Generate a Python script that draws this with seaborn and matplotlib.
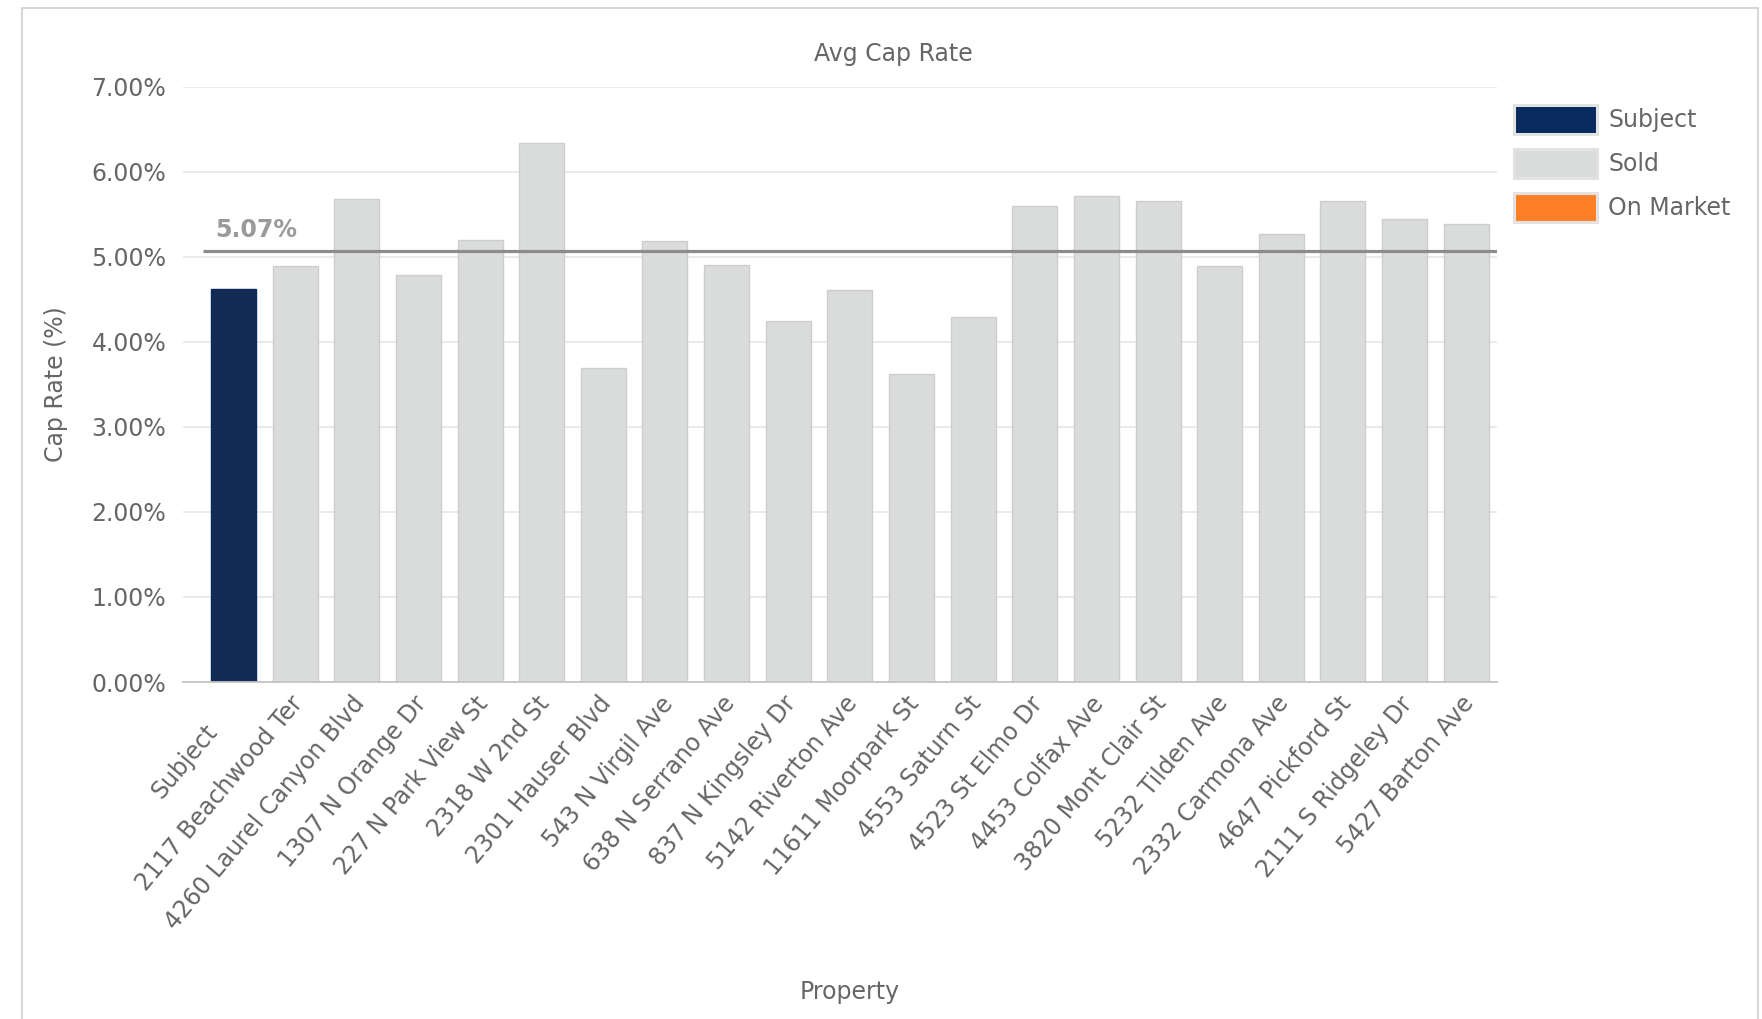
import matplotlib
matplotlib.use("Agg")
import matplotlib.pyplot as plt
import matplotlib.patches as mpatches
import matplotlib.transforms as mtransforms
import seaborn as sns
import pandas as pd

# Properties and their cap rates (%)
properties = [
    "Subject", "2117 Beachwood Ter", "4260 Laurel Canyon Blvd", "1307 N Orange Dr",
    "227 N Park View St", "2318 W 2nd St", "2301 Hauser Blvd", "543 N Virgil Ave",
    "638 N Serrano Ave", "837 N Kingsley Dr", "5142 Riverton Ave", "11611 Moorpark St",
    "4553 Saturn St", "4523 St Elmo Dr", "4453 Colfax Ave", "3820 Mont Clair St",
    "5232 Tilden Ave", "2332 Carmona Ave", "4647 Pickford St", "2111 S Ridgeley Dr",
    "5427 Barton Ave",
]
cap_rates = [
    4.62, 4.89, 5.68, 4.78, 5.20, 6.33, 3.69, 5.18, 4.90, 4.24, 4.61,
    3.62, 4.29, 5.59, 5.71, 5.65, 4.89, 5.27, 5.65, 5.44, 5.38,
]
statuses = ["Subject"] + ["Sold"] * (len(properties) - 1)
status_order = ["Subject", "Sold", "On Market"]
avg_cap_rate = 5.07
y_ticks = [0, 1, 2, 3, 4, 5, 6, 7]

palette = {"Subject": "#092a5e", "Sold": "#dadbdb", "On Market": "#ff7f27"}
text_color = "#666666"

df = pd.DataFrame({"Property": properties, "Cap Rate": cap_rates, "Status": statuses})

sns.set_theme(style="white")
plt.rcParams["font.family"] = ["DejaVu Sans"]

W, H = 1762, 1019
fig = plt.figure(figsize=(W / 100, H / 100), dpi=100)
ax = fig.add_axes([183 / W, 1 - 682 / H, (1497 - 183) / W, (682 - 86.5) / H])

sns.barplot(
    data=df, x="Property", y="Cap Rate", hue="Status", hue_order=status_order,
    palette=palette, dodge=False, width=0.73, legend=False, ax=ax,
    edgecolor="#cdcdcd", linewidth=1.0, zorder=2,
)
for p in ax.patches:
    fc = p.get_facecolor()
    if fc[2] < 0.5:
        p.set_edgecolor(palette["Subject"])

# Average line and its label
ax.plot([-0.5, len(properties) - 0.5], [avg_cap_rate, avg_cap_rate],
        color="#8c8c8c", lw=2.3, zorder=3, solid_capstyle="butt")
ax.annotate(f"{avg_cap_rate:.2f}%", xy=(-0.3, avg_cap_rate), xytext=(0, 15),
            textcoords="offset points", ha="left", va="center",
            fontsize=17, fontweight="bold", color="#9a9a9a")

ax.set_xlim(-0.82, len(properties) - 0.5)
ax.set_ylim(0, 7)
ax.set_yticks(y_ticks)
ax.set_yticklabels([f"{v:.2f}%" for v in y_ticks])
ax.yaxis.grid(True, color="#e4e4e4", lw=1.1, zorder=0)
ax.xaxis.grid(False)
ax.set_axisbelow(True)

for s in ["left", "right", "top"]:
    ax.spines[s].set_visible(False)
ax.spines["bottom"].set_color("#c4c4c4")
ax.spines["bottom"].set_linewidth(1.3)

ax.tick_params(axis="y", length=0, pad=12, labelsize=17, labelcolor=text_color)
ax.tick_params(axis="x", length=0, pad=7, labelsize=17, labelcolor=text_color)
plt.setp(ax.get_xticklabels(), rotation=50, ha="right", va="top",
         rotation_mode="anchor")
shift = mtransforms.ScaledTranslation(-4 / 72, 0, fig.dpi_scale_trans)
for i, lab in enumerate(ax.get_xticklabels()):
    t = lab.get_transform() + shift
    if i == 0:
        # the first label sits a little further out along its baseline
        t = t + mtransforms.ScaledTranslation(-17 / 72, -20 / 72, fig.dpi_scale_trans)
    lab.set_transform(t)

ax.set_xlabel("Property", fontsize=17, color=text_color)
ax.xaxis.set_label_coords((850 - 183) / 1314, -(992 - 682) / 595.5)
ax.xaxis.label.set_va("center")
ax.set_ylabel("Cap Rate (%)", fontsize=17, color=text_color)
ax.yaxis.set_label_coords(-(183 - 68) / 1314, 0.5)

ax.set_title("Avg Cap Rate", fontsize=17, color=text_color, pad=0,
             x=(893 - 183) / 1314, y=1 + (86.5 - 53.7) / 595.5, va="center")

# Legend with all status categories
handles = [mpatches.Patch(facecolor=palette[s], edgecolor="#e2e2e2", linewidth=2.2)
           for s in status_order]
fig.legend(handles, status_order, loc="upper left",
           bbox_to_anchor=(1514 / W, 1 - 105 / H), frameon=False,
           fontsize=17, labelcolor=text_color, handlelength=3.5, handleheight=1.5,
           labelspacing=0.64, handletextpad=0.5, borderpad=0, borderaxespad=0)

# Figure frame
frame = mpatches.Rectangle((22 / W, -0.05), (1758 - 22) / W, 1.05 - 8 / H,
                           transform=fig.transFigure, fill=False,
                           edgecolor="#d2d2d2", lw=1.3)
fig.patches.append(frame)

fig.savefig("out.png", dpi=100)
